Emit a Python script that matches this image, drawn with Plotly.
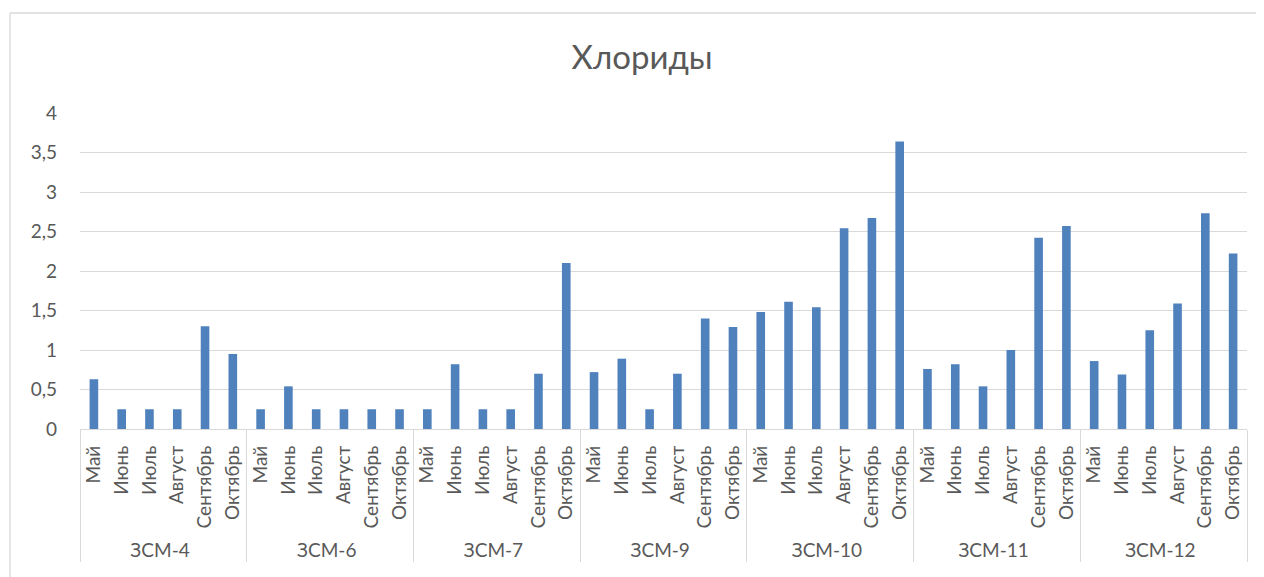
import plotly.graph_objects as go

groups = ["ЗСМ-4", "ЗСМ-6", "ЗСМ-7", "ЗСМ-9", "ЗСМ-10", "ЗСМ-11", "ЗСМ-12"]
months = ["Май", "Июнь", "Июль", "Август", "Сентябрь", "Октябрь"]

zsm4 = [0.63, 0.25, 0.25, 0.25, 1.30, 0.95]
zsm6 = [0.25, 0.54, 0.25, 0.25, 0.25, 0.25]
zsm7 = [0.25, 0.82, 0.25, 0.25, 0.70, 2.10]
zsm9 = [0.72, 0.89, 0.25, 0.70, 1.40, 1.29]
zsm10 = [1.48, 1.61, 1.54, 2.54, 2.67, 3.64]
zsm11 = [0.76, 0.82, 0.54, 1.00, 2.42, 2.57]
zsm12 = [0.86, 0.69, 1.25, 1.59, 2.73, 2.22]

series = [zsm4, zsm6, zsm7, zsm9, zsm10, zsm11, zsm12]

y_ticks = [0, 0.5, 1, 1.5, 2, 2.5, 3, 3.5, 4]
y_tick_text = ["0", "0,5", "1", "1,5", "2", "2,5", "3", "3,5", "4"]

xg, xm, yv = [], [], []
for g, vals in zip(groups, series):
    for m, v in zip(months, vals):
        xg.append(g)
        xm.append(m)
        yv.append(v)

fig = go.Figure(go.Bar(x=[xg, xm], y=yv, marker=dict(color="#4F81BD", line=dict(width=0))))

grey = "#595959"
OFF = 8  # default page body margin
W, H = 1264 - OFF, 577 - OFF
L, T, B = 80 - OFF, 113 - OFF, 148
R = W - (1247 - OFF)
pw, ph = W - L - R, H - T - B

fig.update_layout(
    width=W, height=H,
    paper_bgcolor="white", plot_bgcolor="rgba(0,0,0,0)",
    margin=dict(l=L, r=R, t=T, b=B, autoexpand=False),
    title=dict(text="Хлориды", x=(642 - OFF) / W, xanchor="center", y=1 - (57 - OFF) / H, yanchor="middle",
               font=dict(family="Lato, Open Sans, sans-serif", size=33, color=grey)),
    bargap=0.69,
    showlegend=False,
    font=dict(family="Lato, Open Sans, sans-serif", color=grey),
)
fig.update_yaxes(range=[0, 4], tickvals=y_ticks, ticktext=y_tick_text, automargin=False,
                 showgrid=True, gridcolor="#D9D9D9", gridwidth=1.3,
                 zeroline=False, showline=False, ticks="", ticklen=0, ticklabelstandoff=22,
                 tickfont=dict(size=19, color=grey))
fig.update_xaxes(type="multicategory", tickangle=-90, automargin=False,
                 showline=True, linecolor="#D9D9D9", linewidth=1.3,
                 showdividers=True, dividercolor="#D9D9D9", dividerwidth=1.3,
                 ticklabelstandoff=8,
                 tickfont=dict(size=19, color=grey))

# chart-area frame (left and top edges visible in the reference)
xl = (10 - 80) / pw
xr = (1300 - 80) / pw
yt = 1 + (113 - 13) / ph
yb = -(B + 40) / ph
fig.add_shape(type="line", xref="paper", yref="paper", x0=xl, x1=xr, y0=yt, y1=yt,
              line=dict(color="#D9D9D9", width=1.3), layer="above")
fig.add_shape(type="line", xref="paper", yref="paper", x0=xl, x1=xl, y0=yb, y1=yt,
              line=dict(color="#D9D9D9", width=1.3), layer="above")

fig.write_html("out.html")
